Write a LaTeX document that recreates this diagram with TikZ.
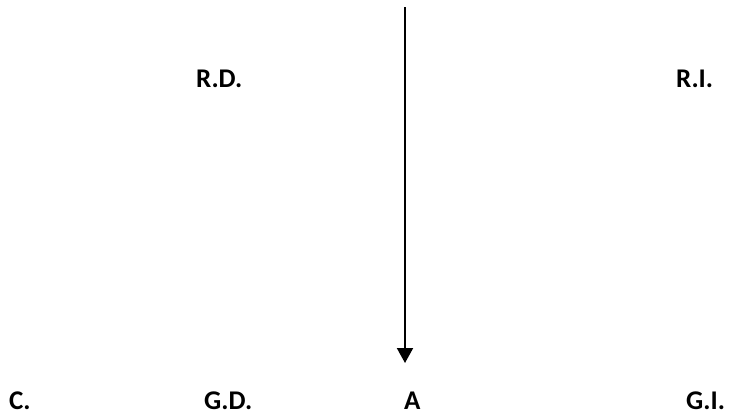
\documentclass[tikz,border=0pt]{standalone}
\usepackage{fontspec}
\setmainfont{Carlito}
\usetikzlibrary{arrows.meta}
\begin{document}
\begin{tikzpicture}[x=1pt,y=-1pt,
  lbl/.style={inner sep=0pt,anchor=base west,font=\fontsize{27}{31}\selectfont\bfseries},
  axis/.style={line width=2pt,-{Triangle[length=15pt,width=16pt]}}]
\useasboundingbox (0,0) rectangle (731,416);
\coordinate (top) at (405,7);
\coordinate (bot) at (405,363);
\draw[axis] (top) -- (bot);
\node[lbl] (rd) at (196,87) {R.D.};
\node[lbl] (ri) at (676,87) {R.I.};
\node[lbl] (c) at (9,409) {C.};
\node[lbl] (gd) at (204,409) {G.D.};
\node[lbl] (a) at (404,409) {A};
\node[lbl] (gi) at (686,409) {G.I.};
\end{tikzpicture}
\end{document}
